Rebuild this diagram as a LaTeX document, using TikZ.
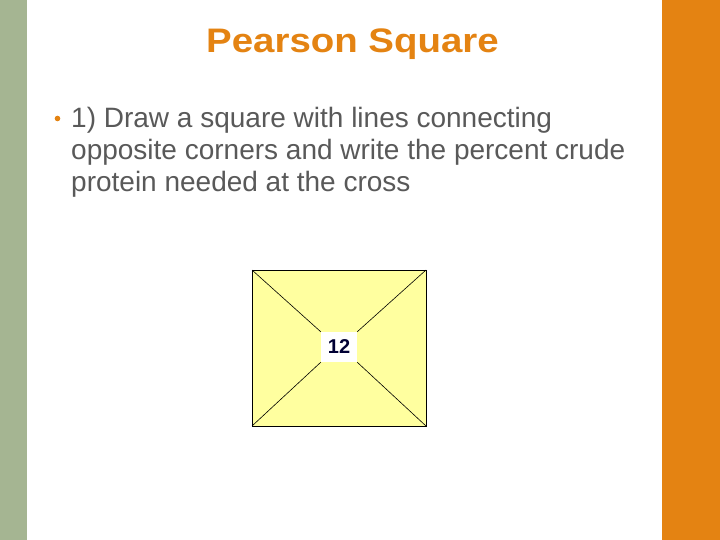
\documentclass[tikz,border=0pt]{standalone}
\usepackage{fontspec}
\setmainfont{Liberation Sans}
\newfontfamily\titlefont[FakeStretch=1.13]{Liberation Sans}
\definecolor{sidegreen}{HTML}{A5B592}
\definecolor{sideorange}{HTML}{E48312}
\definecolor{bodygray}{HTML}{595959}
\definecolor{squarefill}{HTML}{FFFF9F}
\begin{document}
\begin{tikzpicture}[x=1pt,y=-1pt]
\tikzstyle{every node}+=[inner sep=0pt]
\tikzstyle{bodyline}=[anchor=base west,text=bodygray,font=\fontsize{28}{32}\selectfont]
\tikzstyle{cross}=[draw=black,line width=0.6pt]

\useasboundingbox (0,0) rectangle (720,540);
\fill [white] (0,0) rectangle (720,540);
\fill [sidegreen] (0,0) rectangle (27,540);
\fill [sideorange] (662,0) rectangle (720,540);

\node [text=sideorange,font=\titlefont\bfseries\fontsize{34}{38}\selectfont,anchor=base] (title) at (352.5,52.5) {Pearson Square};

\fill [sideorange] (57.5,118.5) circle (2.8);
\node [bodyline] (line1) at (71,128) {1) Draw a square with lines connecting};
\node [bodyline] (line2) at (71,160) {opposite corners and write the percent crude};
\node [bodyline] (line3) at (71,192) {protein needed at the cross};

\draw [fill=squarefill,line width=0.8pt] (252,270) rectangle (426,426);
\coordinate (nw) at (252,270);
\coordinate (ne) at (426,270);
\coordinate (sw) at (252,426);
\coordinate (se) at (426,426);

\node [fill=white,minimum width=36pt,minimum height=30pt,text=black!80!blue,font=\bfseries\fontsize{20}{22}\selectfont] (need) at (339,347) {12};

\draw [cross] (nw) -- (need.north west);
\draw [cross] (ne) -- (need.north east);
\draw [cross] (sw) -- (need.south west);
\draw [cross] (se) -- (need.south east);
\end{tikzpicture}
\end{document}
